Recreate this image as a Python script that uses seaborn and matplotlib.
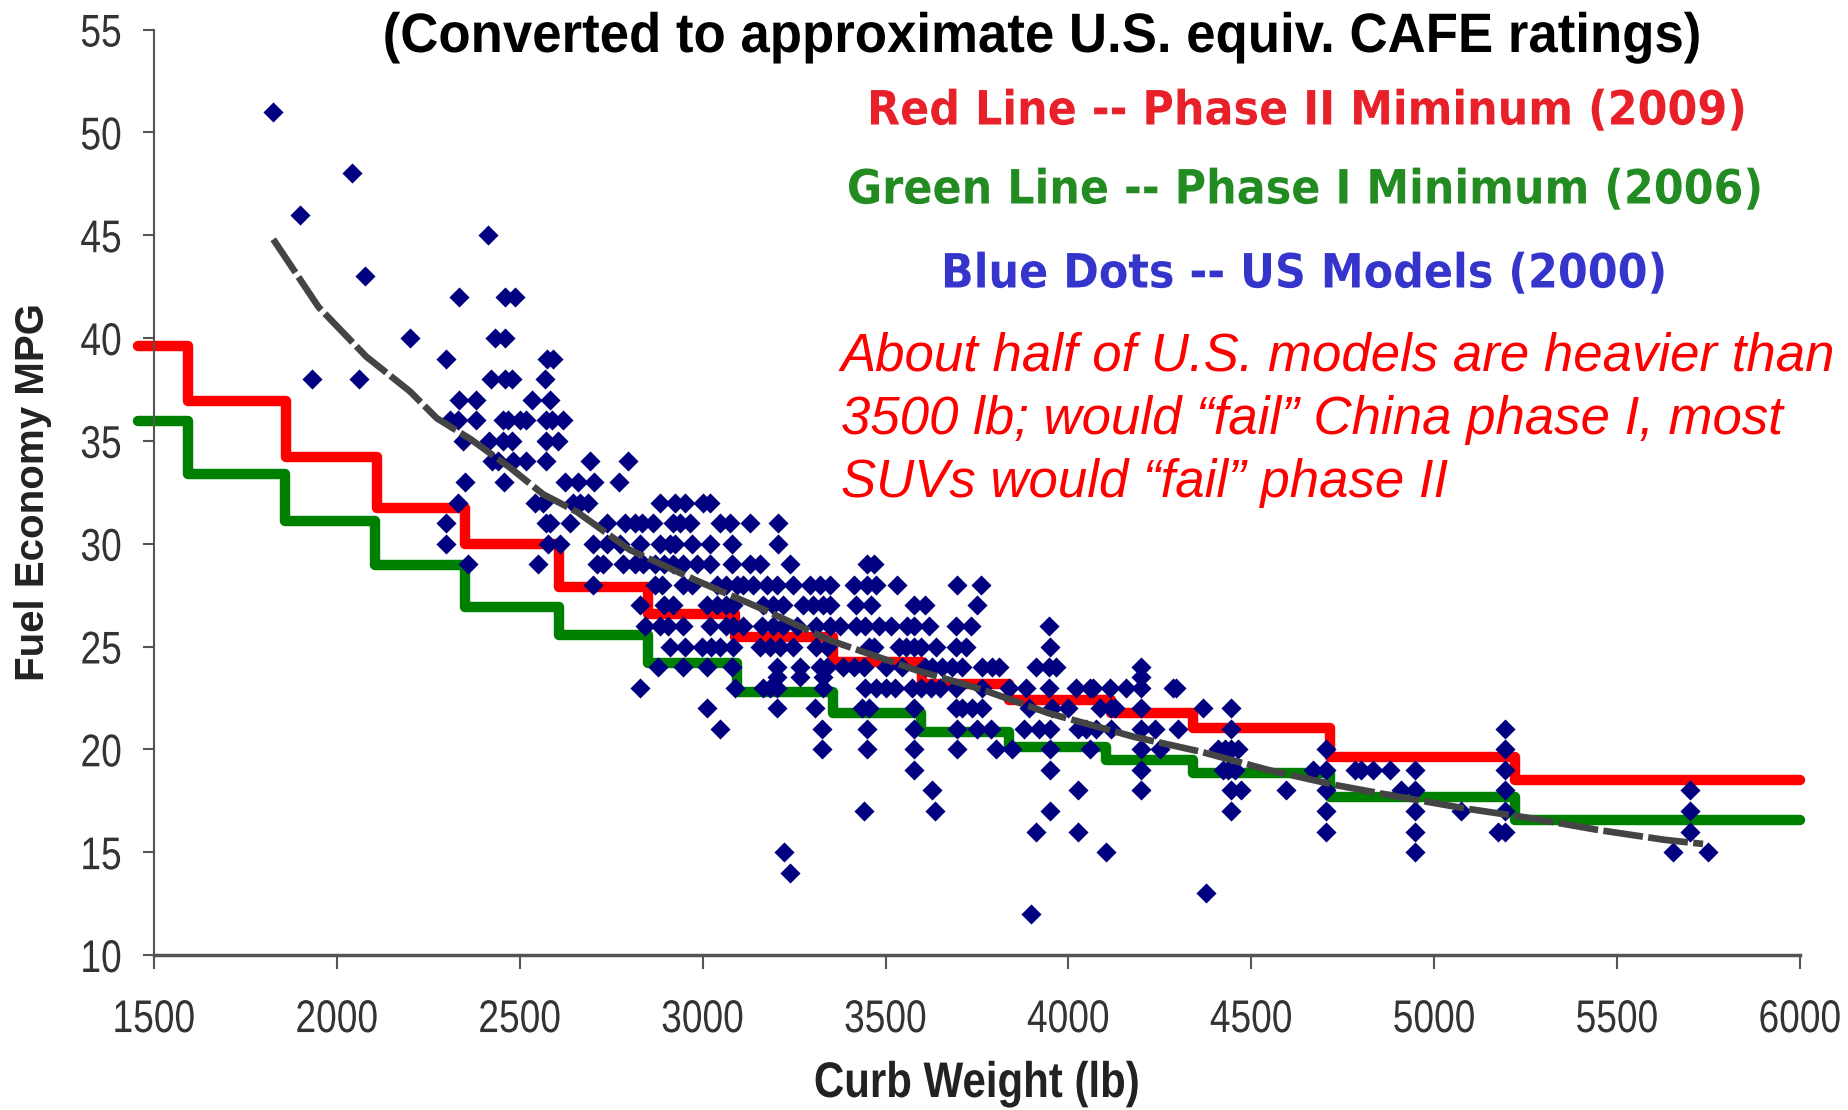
import numpy as np
import pandas as pd
import matplotlib
matplotlib.use("Agg")
import matplotlib.pyplot as plt
import seaborn as sns
from matplotlib.patheffects import AbstractPathEffect
from matplotlib.transforms import Affine2D

# --- data ----------------------------------------------------------------
# US models (2000): curb weight (lb) grouped by fuel economy row (mpg)
mpg_levels = [51, 48, 46, 45, 43, 42, 40, 39, 38, 37, 36, 35, 34, 33, 32, 31, 30,
              29, 28, 27, 26, 25, 24, 23.5, 23, 22, 21, 20, 19, 18, 17, 16, 15, 14, 13, 12]
weights_by_level = [
    [1826],
    [2041],
    [1900],
    [2414],
    [2077],
    [2334, 2459, 2487],
    [2200, 2432, 2459],
    [2297, 2575, 2590],
    [1932, 2061, 2421, 2459, 2478, 2569],
    [2334, 2379, 2534, 2582],
    [2309, 2332, 2379, 2455, 2468, 2500, 2518, 2573, 2587, 2619],
    [2346, 2416, 2455, 2478, 2573, 2605],
    [2423, 2441, 2482, 2518, 2573, 2692, 2795],
    [2350, 2458, 2624, 2660, 2704, 2772],
    [2332, 2541, 2564, 2646, 2665, 2687, 2883, 2924, 2952, 3002, 3020],
    [2297, 2573, 2582, 2637, 2738, 2787, 2815, 2833, 2865, 2920, 2938, 2965,
     3047, 3075, 3129, 3207],
    [2297, 2578, 2610, 2701, 2738, 2774, 2829, 2883, 2911, 2924, 2970, 3020,
     3079, 3207],
    [2359, 2550, 2710, 2728, 2783, 2815, 2838, 2870, 2893, 2920, 2947, 2984,
     3020, 3079, 3129, 3157, 3239, 3450, 3468],
    [2701, 2870, 2888, 2947, 2970, 3038, 3065, 3093, 3111, 3138, 3175, 3202,
     3248, 3293, 3321, 3348, 3414, 3450, 3473, 3532, 3696, 3760],
    [2829, 2893, 2920, 3011, 3038, 3065, 3084, 3166, 3193, 3220, 3275, 3302,
     3330, 3348, 3418, 3459, 3578, 3609, 3751],
    [2842, 2883, 2906, 2947, 3020, 3065, 3084, 3111, 3161, 3193, 3220, 3257,
     3311, 3348, 3375, 3418, 3445, 3482, 3514, 3559, 3578, 3619, 3692, 3733, 3947],
    [2911, 2952, 2997, 3024, 3047, 3084, 3157, 3184, 3211, 3248, 3311, 3339,
     3455, 3468, 3537, 3555, 3578, 3596, 3637, 3692, 3719, 3950],
    [2879, 2947, 3011, 3079, 3202, 3266, 3321, 3339, 3384, 3414, 3441, 3500,
     3546, 3609, 3627, 3655, 3682, 3710, 3764, 3792, 3810, 3910, 3947, 3965, 4199],
    [3202, 3266, 3330, 4199],
    [2829, 3088, 3166, 3184, 3202, 3330, 3445, 3473, 3500, 3527, 3573, 3596,
     3623, 3650, 3692, 3764, 3837, 3883, 3947, 4021, 4058, 4067, 4113, 4158,
     4199, 4286, 4295],
    [3011, 3202, 3307, 3436, 3455, 3578, 3692, 3710, 3737, 3764, 3892, 3956,
     3998, 4085, 4117, 4126, 4199, 4368, 4445],
    [3047, 3325, 3450, 3578, 3696, 3751, 3787, 3878, 3919, 3950, 4026, 4049,
     4076, 4117, 4199, 4236, 4299, 4445, 5193],
    [3325, 3450, 3578, 3696, 3801, 3846, 3950, 4058, 4199, 4249, 4409, 4427,
     4445, 4464, 4705, 5193],
    [3578, 3950, 4199, 4423, 4436, 4454, 4669, 4705, 4783, 4801, 4833, 4878,
     4947, 5193],
    [3627, 4026, 4199, 4445, 4473, 4596, 4705, 4910, 4947, 5193, 5698],
    [3441, 3635, 3950, 4445, 4705, 4947, 5074, 5193, 5698],
    [3910, 4026, 4705, 4947, 5175, 5193, 5698],
    [3221, 4104, 4947, 5653, 5749],
    [3238],
    [4377],
    [3898],
]

# China fuel economy minimums (converted), step boundaries in lb
phase2_x = [1455, 1593, 1861, 2109, 2350, 2608, 2851, 3088, 3357, 3600, 3837,
            4117, 4340, 4714, 5220, 6000]
phase2_mpg = [39.6, 36.95, 34.2, 31.75, 30.0, 27.9, 26.6, 25.45, 24.26, 23.2,
              22.4, 21.75, 21.02, 19.64, 18.51, 18.51]
phase1_x = [1455, 1593, 1858, 2103, 2350, 2608, 2851, 3093, 3357, 3596, 3837,
            4104, 4340, 4714, 5220, 6000]
phase1_mpg = [35.97, 33.4, 31.1, 28.96, 26.94, 25.56, 24.18, 22.8, 21.75, 20.86,
              20.13, 19.48, 18.83, 17.7, 16.56, 16.56]

# trend line through the US models
trend_x = [1826, 1950, 2080, 2200, 2273, 2364, 2473, 2564, 2656, 2801, 2984,
           3166, 3348, 3582, 3765, 3947, 4181, 4363, 4546, 4728, 4901, 5083,
           5265, 5448, 5630, 5735]
trend_mpg = [44.8, 41.5, 39.1, 37.4, 36.1, 35.1, 33.7, 32.4, 31.55, 29.7, 28.2,
             26.8, 25.3, 23.86, 22.9, 21.75, 20.6, 19.88, 19.0, 18.27, 17.7,
             17.13, 16.65, 16.08, 15.6, 15.4]

x_ticks = [1500, 2000, 2500, 3000, 3500, 4000, 4500, 5000, 5500, 6000]
y_ticks = [10, 15, 20, 25, 30, 35, 40, 45, 50, 55]

rows = []
for m, ws in zip(mpg_levels, weights_by_level):
    for w in ws:
        rows.append((w, m))
us = pd.DataFrame(rows, columns=["weight", "mpg"])


# squeeze glyphs sideways (the original uses a narrow face)
class Condense(AbstractPathEffect):
    def __init__(self, sx, anchor="center"):
        super().__init__()
        self.sx = sx
        self.anchor = anchor

    def draw_path(self, renderer, gc, tpath, affine, rgbFace=None):
        v = tpath.vertices
        x0 = 0.0
        if len(v):
            if self.anchor == "center":
                x0 = (v[:, 0].min() + v[:, 0].max()) / 2
            elif self.anchor == "right":
                x0 = v[:, 0].max()
            else:
                x0 = v[:, 0].min()
        t = Affine2D().translate(-x0, 0).scale(self.sx, 1).translate(x0, 0) + affine
        renderer.draw_path(gc, tpath, t, rgbFace)


# --- plot ----------------------------------------------------------------
sns.set_style("ticks")
plt.rcParams["font.family"] = ["Liberation Sans", "DejaVu Sans"]

W, H = 1848, 1110
fig = plt.figure(figsize=(W / 100, H / 100), dpi=100)
ax = fig.add_axes([154 / W, 1 - 955 / H, 1646 / W, 925.5 / H])

sns.lineplot(x=phase2_x, y=phase2_mpg, drawstyle="steps-post", estimator=None,
             sort=False, color="#ff0000", lw=7.5, clip_on=False, ax=ax, zorder=2)
sns.lineplot(x=phase1_x, y=phase1_mpg, drawstyle="steps-post", estimator=None,
             sort=False, color="#008000", lw=7.5, clip_on=False, ax=ax, zorder=2)
sns.scatterplot(data=us, x="weight", y="mpg", marker="D", s=105, color="#000080",
                linewidth=0, ax=ax, zorder=3)
sns.lineplot(x=trend_x, y=trend_mpg, estimator=None, sort=False, color="#444444",
             lw=4.8, linestyle=(0, (6, 0.8)), ax=ax, zorder=4)

ax.set_xlim(1500, 6000)
ax.set_ylim(10, 55)
ax.set_xticks(x_ticks)
ax.set_yticks(y_ticks)
ax.set_xticklabels([str(t) for t in x_ticks], fontsize=33, color="#333333")
ax.set_yticklabels([str(t) for t in y_ticks], fontsize=33, color="#333333")
for lab in ax.get_xticklabels():
    lab.set_path_effects([Condense(0.81, "center")])
for lab in ax.get_yticklabels():
    lab.set_path_effects([Condense(0.81, "right")])
ax.tick_params(axis="x", length=10, width=1.5, color="#555555", pad=21)
ax.tick_params(axis="y", length=8, width=1.5, color="#555555", pad=15)
sns.despine(ax=ax)
ax.spines["left"].set_color("#555555")
ax.spines["left"].set_linewidth(1.5)
ax.spines["bottom"].set_color("#555555")
ax.spines["bottom"].set_linewidth(2.5)

ax.set_xlabel("Curb Weight (lb)", fontsize=36, fontweight="bold", color="#222222")
ax.xaxis.label.set_path_effects([Condense(0.84, "center")])
ax.set_ylabel("Fuel Economy MPG", fontsize=29, fontweight="bold", color="#222222")
ax.xaxis.set_label_coords(0.5, (955 - 1084) / 925.5)
ax.yaxis.set_label_coords((33 - 154) / 1646, 0.5)
ax.xaxis.label.set_va("center")
ax.yaxis.label.set_va("center")

title = fig.text(1041 / W, 1 - 38 / H,
                 "(Converted to approximate U.S. equiv. CAFE ratings)",
                 ha="center", va="center", fontsize=40, fontweight="bold",
                 color="black")
title.set_path_effects([Condense(0.95, "center")])

legend_lines = [("Red Line -- Phase II Miminum (2009)", "#e8202a", 1308, 112),
                ("Green Line -- Phase I Minimum (2006)", "#228b22", 1306, 191),
                ("Blue Dots -- US Models (2000)", "#3535cc", 1305, 275)]
for txt, col, x, y in legend_lines:
    t = fig.text(x / W, 1 - y / H, txt, ha="center", va="center", fontsize=34,
                 fontweight="bold", color=col, family="DejaVu Sans")
    t.set_path_effects([Condense(0.91, "center")])

note = ["About half of U.S. models are heavier than",
        "3500 lb; would \u201cfail\u201d China phase I, most",
        "SUVs would \u201cfail\u201d phase II"]
for line, y in zip(note, [356, 420, 483]):
    fig.text(841 / W, 1 - y / H, line, ha="left", va="center", fontsize=38,
             fontstyle="italic", color="#ff0000")

fig.savefig("out.png", dpi=100)
